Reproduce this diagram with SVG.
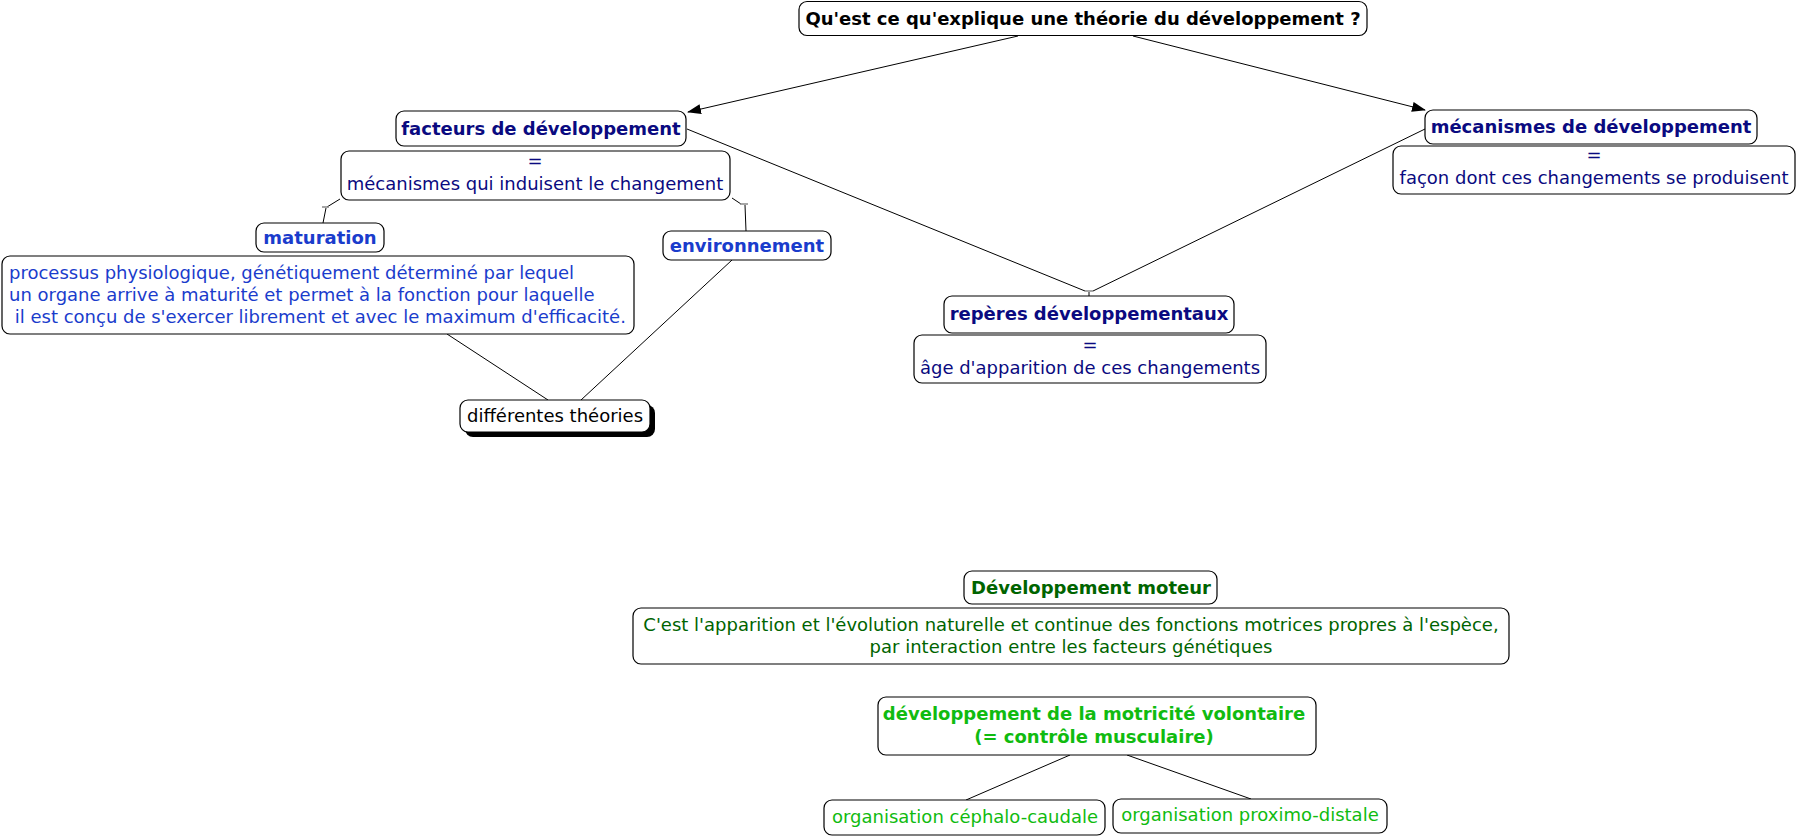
<svg xmlns="http://www.w3.org/2000/svg" width="1798" height="837" viewBox="0 0 1798 837">
<defs>
<marker id="arr" markerWidth="14" markerHeight="10" refX="13" refY="5" orient="auto" markerUnits="userSpaceOnUse">
<path d="M0,0 L14,5 L0,10 Z" fill="#000"/>
</marker>
<style>
.box{fill:#fff;stroke:#000;stroke-width:1.2}
.t{font-family:"DejaVu Sans",Verdana,sans-serif;font-size:18px;text-anchor:middle}
.b{font-weight:bold}
.navy{fill:#0a0a80}
.blue{fill:#1a3ccc}
.dg{fill:#006400}
.lg{fill:#10bb10}
.blk{fill:#000}
.ln{stroke:#000;stroke-width:1;fill:none}
.tick{stroke:#888;stroke-width:1.5;fill:none}
</style>
</defs>
<g id="connectors">
<path class="ln" d="M1018,36 L688,112" marker-end="url(#arr)"/>
<path class="ln" d="M1133,36 L1425,110" marker-end="url(#arr)"/>
<path class="ln" d="M687,129 L1085,291"/>
<path class="ln" d="M1425,129 L1093,291"/>
<path class="tick" d="M1085,291 L1093,291"/>
<path class="ln" d="M1089,292 L1089,296"/>
<path class="ln" d="M340,199 L327,207"/>
<path class="tick" d="M322,207 L329,207"/>
<path class="ln" d="M326,208 L323,223"/>
<path class="ln" d="M732,198 L741,204"/>
<path class="tick" d="M740,204 L748,204"/>
<path class="ln" d="M745,205 L746,231"/>
<path class="ln" d="M447,334 L548,400"/>
<path class="ln" d="M732,260 L581,400"/>
<path class="ln" d="M1070,755 L966,800"/>
<path class="ln" d="M1127,755 L1251,799"/>
</g>
<g id="title">
<rect class="box" x="799" y="1.5" width="568" height="34" rx="8"/>
<text class="t b blk" x="1083" y="25">Qu'est ce qu'explique une théorie du développement ?</text>
</g>
<g id="facteurs">
<rect class="box" x="396" y="111" width="290" height="35" rx="8"/>
<text class="t b navy" x="541" y="135">facteurs de développement</text>
</g>
<g id="facteurs-def">
<rect class="box" x="341" y="151" width="389" height="49" rx="8"/>
<text class="t navy" x="535" y="167">=</text>
<text class="t navy" x="535" y="190">mécanismes qui induisent le changement</text>
</g>
<g id="maturation">
<rect class="box" x="256" y="223" width="128" height="29" rx="8"/>
<text class="t b blue" x="320" y="244">maturation</text>
</g>
<g id="maturation-def">
<rect class="box" x="2" y="256" width="632" height="78" rx="8"/>
<text class="t blue" style="text-anchor:start" x="9" y="279">processus physiologique, génétiquement déterminé par lequel</text>
<text class="t blue" style="text-anchor:start" x="9" y="301">un organe arrive à maturité et permet à la fonction pour laquelle</text>
<text class="t blue" style="text-anchor:start" x="9" y="323" xml:space="preserve"> il est conçu de s'exercer librement et avec le maximum d'efficacité.</text>
</g>
<g id="environnement">
<rect class="box" x="663" y="231" width="168" height="29" rx="8"/>
<text class="t b blue" x="747" y="252">environnement</text>
</g>
<g id="theories">
<rect x="465" y="405" width="190" height="32" rx="8" fill="#000"/>
<rect class="box" x="460" y="400" width="190" height="32" rx="8"/>
<text class="t blk" x="555" y="422">différentes théories</text>
</g>
<g id="reperes">
<rect class="box" x="944" y="296" width="290" height="37" rx="8"/>
<text class="t b navy" x="1089" y="320">repères développementaux</text>
</g>
<g id="reperes-def">
<rect class="box" x="914" y="335" width="352" height="48" rx="8"/>
<text class="t navy" x="1090" y="351">=</text>
<text class="t navy" x="1090" y="374">âge d'apparition de ces changements</text>
</g>
<g id="mecanismes">
<rect class="box" x="1425" y="110" width="332" height="34" rx="8"/>
<text class="t b navy" x="1591" y="133">mécanismes de développement</text>
</g>
<g id="mecanismes-def">
<rect class="box" x="1393" y="146" width="402" height="48" rx="8"/>
<text class="t navy" x="1594" y="161">=</text>
<text class="t navy" x="1594" y="184">façon dont ces changements se produisent</text>
</g>
<g id="moteur">
<rect class="box" x="964" y="571" width="253" height="33" rx="8"/>
<text class="t b dg" x="1091" y="594">Développement moteur</text>
</g>
<g id="moteur-def">
<rect class="box" x="633" y="608" width="876" height="56" rx="8"/>
<text class="t dg" x="1071" y="631">C'est l'apparition et l'évolution naturelle et continue des fonctions motrices propres à l'espèce, </text>
<text class="t dg" x="1071" y="653">par interaction entre les facteurs génétiques</text>
</g>
<g id="motricite">
<rect class="box" x="878" y="697" width="438" height="58" rx="8"/>
<text class="t b lg" x="1094" y="720">développement de la motricité volontaire </text>
<text class="t b lg" x="1094" y="743">(= contrôle musculaire)</text>
</g>
<g id="cephalo">
<rect class="box" x="824" y="800" width="281" height="35" rx="8"/>
<text class="t lg" x="965" y="823">organisation céphalo-caudale</text>
</g>
<g id="proximo">
<rect class="box" x="1113" y="799" width="274" height="34" rx="8"/>
<text class="t lg" x="1250" y="821">organisation proximo-distale</text>
</g>
</svg>
